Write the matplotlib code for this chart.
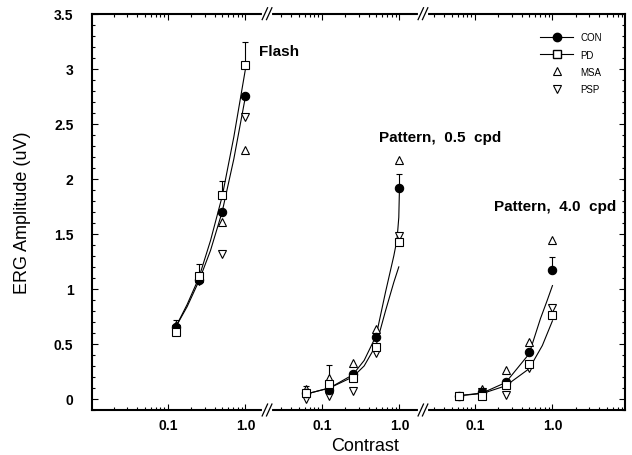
import numpy as np
import matplotlib.pyplot as plt
from matplotlib.lines import Line2D

plt.rcParams['font.family'] = ['Liberation Sans', 'DejaVu Sans']

# contrast levels
flash_c = np.array([0.125, 0.25, 0.5, 1.0])
patt_c = np.array([0.0625, 0.125, 0.25, 0.5, 1.0])

# Flash, ERG amplitude (uV)
flash_con = [0.65, 1.08, 1.70, 2.75]
flash_pd = [0.61, 1.12, 1.85, 3.03]
flash_msa = [0.67, 1.10, 1.61, 2.26]
flash_psp = [0.64, 1.075, 1.32, 2.56]
flash_pd_err = [0.11, 0.11, 0.13, 0.21]

# Pattern, 0.5 cpd
p05_con = [0.05, 0.085, 0.227, 0.56, 1.915]
p05_pd = [0.055, 0.136, 0.19, 0.475, 1.43]
p05_msa = [0.09, 0.19, 0.33, 0.64, 2.175]
p05_psp = [0.0, 0.03, 0.075, 0.42, 1.485]
p05_con_err = [0, 0, 0, 0, 0.13]
p05_pd_err = [0.06, 0.17, 0, 0, 0]

# Pattern, 4.0 cpd
p40_con = [0.03, 0.06, 0.15, 0.425, 1.175]
p40_pd = [0.025, 0.03, 0.13, 0.32, 0.76]
p40_msa = [0.03, 0.09, 0.26, 0.515, 1.44]
p40_psp = [0.025, 0.066, 0.04, 0.28, 0.825]
p40_con_err = [0, 0, 0, 0, 0.115]

# fitted curves
flash_fit_c = [0.125, 0.177, 0.25, 0.354, 0.5, 0.707, 1.0]
flash_fit_con = [0.65, 0.84, 1.07, 1.35, 1.70, 2.18, 2.75]
flash_fit_pd = [0.65, 0.86, 1.10, 1.44, 1.84, 2.38, 3.00]

p05_fit1_c = [0.0625, 0.125, 0.25, 0.35, 0.5, 0.66, 0.845, 0.93, 0.98, 1.0]
p05_fit1_v = [0.045, 0.10, 0.22, 0.35, 0.575, 0.97, 1.30, 1.45, 1.65, 1.92]
p05_fit2_c = [0.0625, 0.125, 0.25, 0.35, 0.5, 0.66, 0.845, 0.98]
p05_fit2_v = [0.045, 0.10, 0.20, 0.30, 0.49, 0.80, 1.06, 1.20]

p40_fit1_c = [0.0625, 0.125, 0.25, 0.5, 0.7, 0.85, 1.0]
p40_fit1_v = [0.03, 0.055, 0.15, 0.41, 0.73, 0.89, 1.03]
p40_fit2_c = [0.0625, 0.125, 0.25, 0.5, 0.74, 1.0]
p40_fit2_v = [0.03, 0.05, 0.12, 0.275, 0.485, 0.71]

# broken log axis: each panel gets its own offset (in decades)
offsets = [1.987, 3.974, 5.948]
seg_edges = [0.0, 2.265, 4.277, 6.884]


def tx(c, k):
    return np.log10(np.asarray(c, dtype=float)) + offsets[k]


fig = plt.figure(figsize=(6.32, 4.56), dpi=100)
ax = fig.add_axes([0.1448, 0.0987, 0.8441, 0.8691])

lw = 0.8
ms_o, ms_s, ms_t = 6, 6, 5.5


def panel(k, c, con, pd, msa, psp, fits, con_err=None, pd_err=None):
    u = tx(c, k)
    for fc, fv in fits:
        ax.plot(tx(fc, k), fv, 'k-', lw=lw, zorder=1)
    if con_err is not None:
        ax.errorbar(u, con, yerr=[np.zeros(len(c)), con_err], fmt='none',
                    ecolor='k', elinewidth=lw, capsize=2.5, capthick=lw, zorder=2)
    if pd_err is not None:
        ax.errorbar(u, pd, yerr=[np.zeros(len(c)), pd_err], fmt='none',
                    ecolor='k', elinewidth=lw, capsize=2.5, capthick=lw, zorder=2)
    ax.plot(u, msa, '^', ms=ms_t, mfc='white', mec='k', mew=lw, zorder=3)
    ax.plot(u, psp, 'v', ms=ms_t, mfc='white', mec='k', mew=lw, zorder=3)
    ax.plot(u, con, 'o', ms=ms_o, mfc='k', mec='k', mew=lw, zorder=4)
    ax.plot(u, pd, 's', ms=ms_s, mfc='white', mec='k', mew=lw, zorder=5)


panel(0, flash_c, flash_con, flash_pd, flash_msa, flash_psp,
      [(flash_fit_c, flash_fit_con), (flash_fit_c, flash_fit_pd)],
      pd_err=flash_pd_err)
panel(1, patt_c, p05_con, p05_pd, p05_msa, p05_psp,
      [(p05_fit1_c, p05_fit1_v), (p05_fit2_c, p05_fit2_v)],
      con_err=p05_con_err, pd_err=p05_pd_err)
panel(2, patt_c, p40_con, p40_pd, p40_msa, p40_psp,
      [(p40_fit1_c, p40_fit1_v), (p40_fit2_c, p40_fit2_v)],
      con_err=p40_con_err)

ax.set_xlim(seg_edges[0], seg_edges[-1])
ax.set_ylim(-0.1, 3.5)

# x ticks per segment
major, labels, minor = [], [], []
for k in range(3):
    lo, hi = seg_edges[k] + 0.02, seg_edges[k + 1] - 0.02
    for d in [-1, 0]:
        major.append(offsets[k] + d)
        labels.append('0.1' if d == -1 else '1.0')
    for d in [-2, -1, 0]:
        for m in range(2, 10):
            u = offsets[k] + d + np.log10(m)
            if lo < u < hi:
                minor.append(u)
ax.set_xticks(major)
ax.set_xticklabels(labels, fontweight='bold', fontsize=10)
ax.set_xticks(minor, minor=True)

yt = [0, 0.5, 1, 1.5, 2, 2.5, 3, 3.5]
ax.set_yticks(yt)
ax.set_yticklabels(['0', '0.5', '1', '1.5', '2', '2.5', '3', '3.5'],
                   fontweight='bold', fontsize=10)
ax.set_yticks(np.arange(-0.1, 3.5, 0.1), minor=True)

ax.tick_params(which='both', direction='in', top=True, right=True, width=0.8)
ax.tick_params(which='major', length=4)
ax.tick_params(which='minor', length=2)
ax.tick_params(axis='y', pad=13)
ax.tick_params(axis='x', pad=6)
for s in ax.spines.values():
    s.set_linewidth(1.5)

# break marks on top and bottom spines
trans = ax.get_xaxis_transform()
for b in seg_edges[1:3]:
    for yy in [0, 1]:
        ax.plot([b - 0.035, b + 0.035], [yy, yy], color='white', lw=3,
                transform=trans, clip_on=False, zorder=10)
        for dx in [-0.028, 0.028]:
            ax.plot([b + dx - 0.035, b + dx + 0.035], [yy - 0.015, yy + 0.015],
                    color='k', lw=0.9, transform=trans, clip_on=False, zorder=11)

ax.text(2.161, 3.16, 'Flash', fontweight='bold', fontsize=11, va='center')
ax.text(3.71, 2.38, 'Pattern,  0.5  cpd', fontweight='bold', fontsize=11, va='center')
ax.text(5.19, 1.755, 'Pattern,  4.0  cpd', fontweight='bold', fontsize=11, va='center')

ax.set_ylabel('ERG Amplitude (uV)', fontsize=13)
ax.yaxis.set_label_coords(-0.113, 0.5)
fig.text(365 / 632, 1 - 447 / 456, 'Contrast', fontsize=13, ha='center', va='center')

handles = [
    Line2D([], [], color='k', lw=lw, marker='o', ms=ms_o, mfc='k', mec='k'),
    Line2D([], [], color='k', lw=lw, marker='s', ms=ms_s, mfc='white', mec='k'),
    Line2D([], [], ls='none', marker='^', ms=ms_t, mfc='white', mec='k', mew=lw),
    Line2D([], [], ls='none', marker='v', ms=ms_t, mfc='white', mec='k', mew=lw),
]
ax.legend(handles, ['CON', 'PD', 'MSA', 'PSP'], loc='upper left',
          bbox_to_anchor=(0.841, 0.953), frameon=False, fontsize=7,
          borderpad=0, borderaxespad=0, handlelength=3.4, handletextpad=0.7,
          labelspacing=0.75)

plt.savefig('out.png', dpi=100)
